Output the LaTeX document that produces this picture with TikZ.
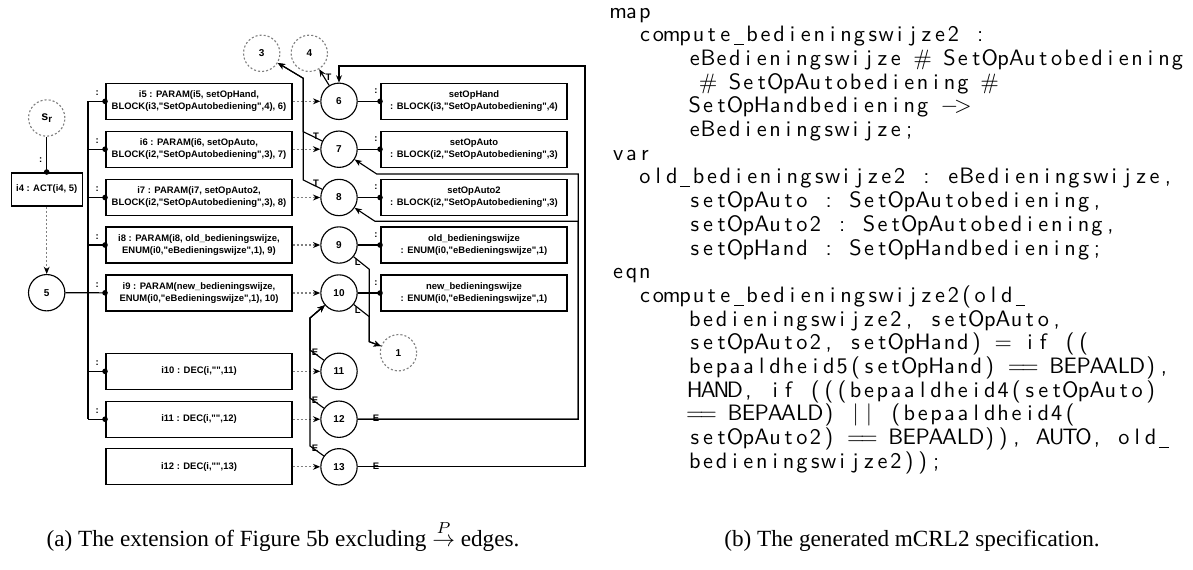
\documentclass[tikz,border=0pt]{standalone}
\usepackage{fontspec}
\usetikzlibrary{arrows.meta}
\newfontfamily\diagfont{Liberation Sans}
\newfontfamily\capfont{Liberation Serif}

% fixed-column typesetting for the mCRL2 listing: every character sits centred in its own cell
\newlength\cellw
\setlength\cellw{5.9pt}
\def\lstcellend{\lstcellend}
\newcommand\fixedcols[1]{\lstcellloop#1\lstcellend}
\def\lstcellloop#1{%
  \ifx#1\lstcellend\else
    \ifx#1~\hspace*{\cellw}\else\makebox[\cellw][c]{#1}\fi
    \expandafter\lstcellloop
  \fi}
\def\mn{\ensuremath{-}}
\def\lstgt{\ensuremath{>}}
\def\us{\rule[-1.4pt]{4.2pt}{0.45pt}}

\begin{document}
\begin{tikzpicture}[
  x=0.44pt, y=-0.44pt,
  lab/.style={font=\diagfont\bfseries\fontsize{4.15}{5.3}\selectfont, inner sep=0pt},
  num/.style={font=\diagfont\bfseries\fontsize{4.4}{5.3}\selectfont, inner sep=0pt},
  box/.style={draw, line width=0.5pt, minimum width=81.8pt, minimum height=15.8pt, align=center, lab},
  state/.style={circle, draw, line width=0.5pt, minimum size=16pt, num},
  ghost/.style={circle, draw=gray, line width=0.5pt, dash pattern=on 0.9pt off 0.9pt, minimum size=16pt, num},
  conn/.style={line width=0.5pt, -{Circle[length=2.4pt]}, shorten >=-1pt},
  arr/.style={line width=0.5pt, -{Stealth[length=3.2pt,width=2.6pt]}},
  dotarr/.style={gray, line width=0.5pt, dash pattern=on 0.9pt off 0.9pt, -{Stealth[length=3.2pt,width=2.6pt,black]}},
  code/.style={font=\sffamily\fontsize{9.8}{11}\selectfont, inner sep=0pt, anchor=base west},
  captext/.style={font=\capfont\fontsize{10.2}{12}\selectfont, inner sep=0pt, anchor=base}
]
\useasboundingbox (0,0) rectangle (1193,569);

% ---------- (a) the extended graph ----------
\node[ghost] (sr) at (46.7,118) {\fontsize{5.5}{6}\selectfont s\raisebox{-1.2pt}{\fontsize{4.3}{5}\selectfont r}};
\node[box, minimum width=31.2pt, minimum height=14.5pt] (i4) at (46.7,189.5) {i4 : ACT(i4, 5)};
\node[state] (c5) at (46.7,292.7) {5};

\node[box] (p5)  at (199,101.3) {i5 : PARAM(i5, setOpHand,\\BLOCK(i3,"SetOpAutobediening",4), 6)};
\node[box] (p6)  at (199,149.2) {i6 : PARAM(i6, setOpAuto,\\BLOCK(i2,"SetOpAutobediening",3), 7)};
\node[box] (p7)  at (199,197.5) {i7 : PARAM(i7, setOpAuto2,\\BLOCK(i2,"SetOpAutobediening",3), 8)};
\node[box] (p8)  at (199,245)   {i8 : PARAM(i8, old\_bedieningswijze,\\ENUM(i0,"eBedieningswijze",1), 9)};
\node[box] (p9)  at (199,293)   {i9 : PARAM(new\_bedieningswijze,\\ENUM(i0,"eBedieningswijze",1), 10)};
\node[box] (p10) at (199,371.3) {i10 : DEC(i,"",11)};
\node[box] (p11) at (199,419.2) {i11 : DEC(i,"",12)};
\node[box] (p12) at (199,466.8) {i12 : DEC(i,"",13)};

\node[state] (c6)  at (339,101.3) {6};
\node[state] (c7)  at (339,149.2) {7};
\node[state] (c8)  at (339,197.5) {8};
\node[state] (c9)  at (339,245)   {9};
\node[state] (c10) at (339,293)   {10};
\node[state] (c11) at (339,371.3) {11};
\node[state] (c12) at (339,419.2) {12};
\node[state] (c13) at (339,466.8) {13};

\node[box] (r6)  at (474,101.3) {setOpHand\\: BLOCK(i3,"SetOpAutobediening",4)};
\node[box] (r7)  at (474,149.2) {setOpAuto\\: BLOCK(i2,"SetOpAutobediening",3)};
\node[box] (r8)  at (474,197.5) {setOpAuto2\\: BLOCK(i2,"SetOpAutobediening",3)};
\node[box] (r9)  at (474,245)   {old\_bedieningswijze\\: ENUM(i0,"eBedieningswijze",1)};
\node[box] (r10) at (474,293)   {new\_bedieningswijze\\: ENUM(i0,"eBedieningswijze",1)};

\node[ghost] (n3) at (261.7,53.3) {3};
\node[ghost] (n4) at (309.3,53.3) {4};
\node[ghost] (n1) at (398.5,352.7) {1};

% root and action
\draw[conn] (sr) -- (i4);
\node[lab] (k0) at (40.7,160) {:};
\draw[dotarr] (i4) -- (c5);

% parameter bus
\coordinate (bt) at (88,101.3);
\coordinate (bb) at (88,419.2);
\coordinate (b6) at (88,149.2);
\coordinate (b7) at (88,197.5);
\coordinate (b8) at (88,245);
\coordinate (b10) at (88,371.3);
\draw[line width=0.5pt] (bt) -- (bb);
\draw[conn] (bt) -- (p5);
\draw[conn] (b6) -- (p6);
\draw[conn] (b7) -- (p7);
\draw[conn] (b8) -- (p8);
\draw[conn] (c5) -- (p9);
\draw[conn] (b10) -- (p10);
\draw[conn] (bb) -- (p11);
\foreach \y/\n in {101.3/1,149.2/2,197.5/3,245/4,293/5,371.3/6,419.2/7}
  \node[lab] (kl\n) at (97.3,\y-8) {:};

% boxes to states
\draw[dotarr] (p5) -- (c6);
\draw[dotarr] (p6) -- (c7);
\draw[dotarr] (p7) -- (c8);
\draw[dotarr] (p8) -- (c9);
\draw[dotarr] (p9) -- (c10);
\draw[dotarr] (p10) -- (c11);
\draw[dotarr] (p11) -- (c12);
\draw[dotarr] (p12) -- (c13);

% states to declarations
\draw[conn] (c6) -- (r6);
\draw[conn] (c7) -- (r7);
\draw[conn] (c8) -- (r8);
\draw[conn] (c9) -- (r9);
\draw[conn] (c10) -- (r10);
\foreach \y/\n in {101.3/1,149.2/2,197.5/3,245/4,293/5}
  \node[lab] (kr\n) at (376,\y-10) {:};

% T edges
\coordinate (t3) at (303.3,78.3);
\coordinate (t7) at (303.3,131.7);
\coordinate (t8) at (303.3,180);
\draw[arr] (c6) -- (n4);
\draw[arr] (c7) -- (t7) -- (t3) -- (n3);
\draw[arr] (c8) -- (t8) -- (t3) -- (n3);
\node[lab] (lt6) at (328.5,77.7) {T};
\node[lab] (lt7) at (316,136.7) {T};
\node[lab] (lt8) at (316,183) {T};

% L edges
\coordinate (l9) at (369.3,269.3);
\coordinate (l10) at (369.3,316.7);
\coordinate (l1) at (369.3,341.7);
\draw[arr] (c9) -- (l9) -- (l1) -- (n1);
\draw[arr] (c10) -- (l10) -- (l1) -- (n1);
\node[lab] (ll9) at (357.7,262.7) {L};
\node[lab] (ll10) at (357.7,310.7) {L};

% E edges back to 10
\coordinate (e10) at (310,318);
\coordinate (e11) at (310,350);
\coordinate (e12) at (310,398);
\coordinate (e13) at (310,446);
\draw[arr] (c11) -- (e11) -- (e10) -- (c10);
\draw[arr] (c12) -- (e12) -- (e10) -- (c10);
\draw[arr] (c13) -- (e13) -- (e10) -- (c10);
\node[lab] (le11) at (315,352.7) {E};
\node[lab] (le12) at (315,400.7) {E};
\node[lab] (le13) at (315,448.3) {E};

% E edges from 12 to 7 and 8
\coordinate (ea) at (578.3,419.2);
\coordinate (eb) at (578.3,221.3);
\coordinate (ec) at (375,221.3);
\coordinate (ed) at (578.3,174);
\coordinate (ee) at (376.7,174);
\draw[arr] (c12.east) -- (ea) -- (eb) -- (ec) -- (c8);
\draw[arr] (c12.east) -- (ea) -- (ed) -- (ee) -- (c7);
\node[lab] (lx12) at (376,418.5) {E};

% E edge from 13 to 6
\coordinate (fa) at (585,466.8);
\coordinate (fb) at (585,66);
\coordinate (fc) at (339,66);
\draw[arr] (c13.east) -- (fa) -- (fb) -- (fc) -- (c6);
\node[lab] (lx13) at (376,466) {E};

% ---------- (b) the generated specification ----------
\node[code] (row0)  at (611,18)      {\fixedcols{map}};
\node[code] (row1)  at (637.8,41.7)  {\fixedcols{compute\us bedieningswijze2~:}};
\node[code] (row2)  at (687.6,65.4)  {\fixedcols{eBedieningswijze~\#~SetOpAutobediening}};
\node[code] (row3)  at (687.6,89.1)  {\fixedcols{~\#~SetOpAutobediening~\#}};
\node[code] (row4)  at (687.6,112.8) {\fixedcols{SetOpHandbediening~\mn\lstgt}};
\node[code] (row5)  at (687.6,136.5) {\fixedcols{eBedieningswijze;}};
\node[code] (row6)  at (611,160.2)   {\fixedcols{var}};
\node[code] (row7)  at (637.8,183.9) {\fixedcols{old\us bedieningswijze2~:~eBedieningswijze,}};
\node[code] (row8)  at (687.6,207.6) {\fixedcols{setOpAuto~:~SetOpAutobediening,}};
\node[code] (row9)  at (687.6,231.3) {\fixedcols{setOpAuto2~:~SetOpAutobediening,}};
\node[code] (row10) at (687.6,255)   {\fixedcols{setOpHand~:~SetOpHandbediening;}};
\node[code] (row11) at (611,278.7)   {\fixedcols{eqn}};
\node[code] (row12) at (637.8,302.4) {\fixedcols{compute\us bedieningswijze2(old\us}};
\node[code] (row13) at (687.6,326.1) {\fixedcols{bedieningswijze2,~setOpAuto,}};
\node[code] (row14) at (687.6,349.8) {\fixedcols{setOpAuto2,~setOpHand)~=~if~((}};
\node[code] (row15) at (687.6,373.5) {\fixedcols{bepaaldheid5(setOpHand)~==~BEPAALD),}};
\node[code] (row16) at (687.6,397.2) {\fixedcols{HAND,~if~(((bepaaldheid4(setOpAuto)}};
\node[code] (row17) at (687.6,420.9) {\fixedcols{==~BEPAALD)~||~(bepaaldheid4(}};
\node[code] (row18) at (687.6,444.6) {\fixedcols{setOpAuto2)~==~BEPAALD)),~AUTO,~old\us}};
\node[code] (row19) at (687.6,468.3) {\fixedcols{bedieningswijze2));}};

% ---------- captions ----------
\node[captext] (capa) at (283,546) {(a) The extension of Figure 5b excluding $\stackrel{P}{\rightarrow}$ edges.};
\node[captext] (capb) at (912,546) {(b) The generated mCRL2 specification.};
\end{tikzpicture}
\end{document}
